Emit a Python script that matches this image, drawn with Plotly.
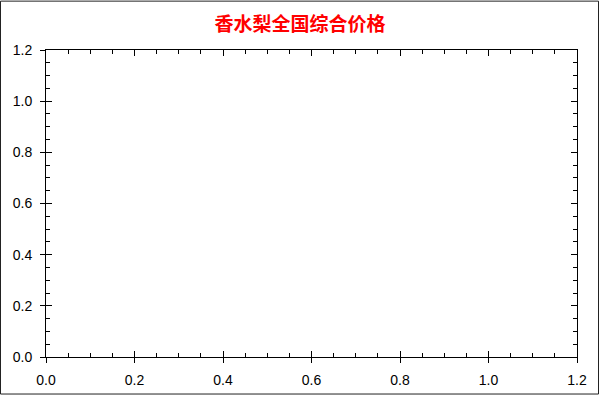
import plotly.graph_objects as go

# chart has no data points, only the empty frame
price_dates = []
price_values = []

title_text = "香水梨全国综合价格"
axis_range = [0, 1.2]
tick_vals = [0.0, 0.2, 0.4, 0.6, 0.8, 1.0, 1.2]
tick_text = ["0.0", "0.2", "0.4", "0.6", "0.8", "1.0", "1.2"]

fig = go.Figure()
fig.add_trace(go.Scatter(x=price_dates, y=price_values, mode="lines", showlegend=False))
# empty trace so the overlay axes (outer tick marks) get drawn
fig.add_trace(go.Scatter(x=price_dates, y=price_values, xaxis="x2", yaxis="y2",
                         mode="lines", showlegend=False))

inner = dict(
    range=axis_range, tickvals=tick_vals, ticktext=tick_text,
    showline=True, linecolor="black", linewidth=1, mirror="ticks",
    ticks="inside", ticklen=6, tickcolor="black", tickwidth=1,
    minor=dict(ticks="inside", ticklen=4, dtick=0.05, tickcolor="black", tickwidth=1),
    showgrid=False, zeroline=False,
    tickfont=dict(family="Liberation Sans, Arial", size=14, color="black"),
    ticklabelstandoff=10,
    fixedrange=True,
)
outer = dict(
    range=axis_range, tickvals=tick_vals,
    showline=False, ticks="outside", ticklen=5, tickcolor="black", tickwidth=1,
    showticklabels=False, showgrid=False, zeroline=False, fixedrange=True,
)

fig.update_layout(
    width=600, height=400, autosize=False,
    paper_bgcolor="white", plot_bgcolor="white",
    margin=dict(l=46, r=23, t=50, b=39),
    title=dict(text="<b>" + title_text + "</b>", x=0.5, xanchor="center",
               y=0.94, yanchor="middle",
               font=dict(family="Noto Sans CJK SC", size=19, color="red")),
    xaxis=inner,
    yaxis=inner,
    xaxis2=dict(outer, overlaying="x", side="bottom", anchor="y"),
    yaxis2=dict(outer, overlaying="y", side="left", anchor="x"),
    showlegend=False,
)

# thin frame around the whole picture (kept half a pixel inside the edges)
fig.add_shape(type="rect", xref="paper", yref="paper",
              x0=-45.5 / 531, x1=1 + 21.5 / 531, y0=-37.5 / 311, y1=1 + 49.5 / 311,
              line=dict(color="#222222", width=1), fillcolor="rgba(0,0,0,0)", layer="above")

fig.write_html("out.html", config={"displayModeBar": False, "responsive": False},
               post_script="document.body.style.margin='0';")
